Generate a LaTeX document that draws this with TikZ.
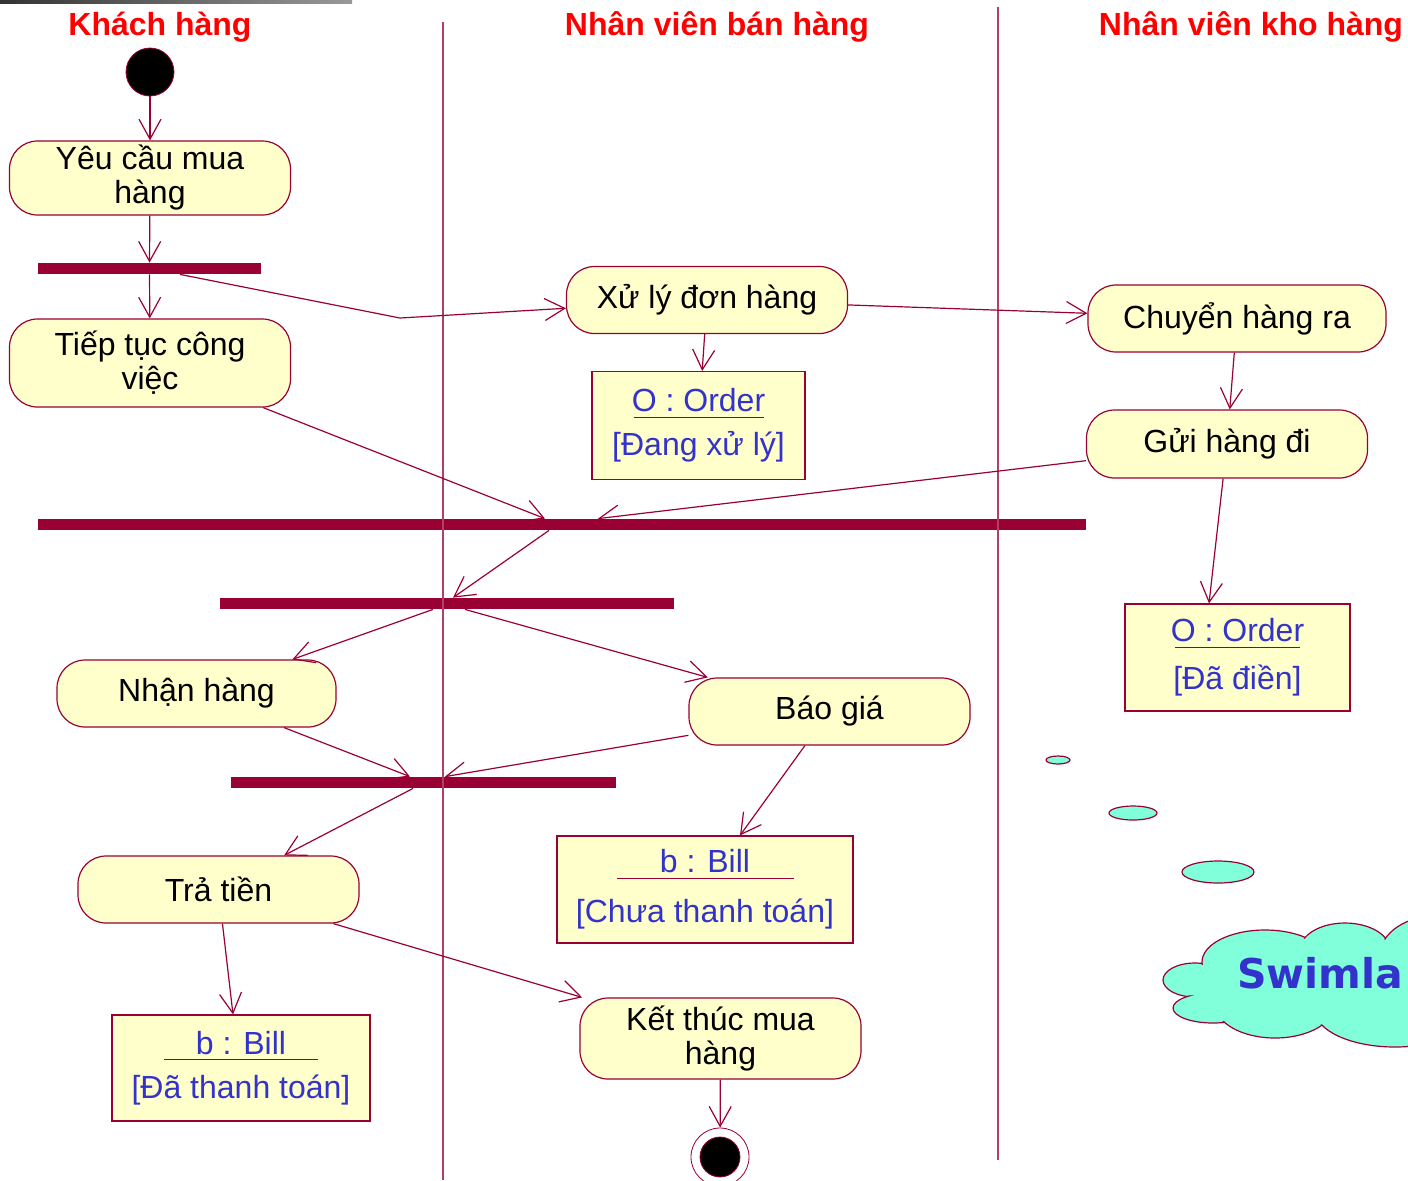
\documentclass[tikz,border=0pt]{standalone}
\usepackage{fontspec}
\setmainfont{Liberation Sans}
\newfontfamily\swimfont{DejaVu Sans}
\usepackage{xcolor}
\usepackage{tikz}
\usetikzlibrary{arrows.meta,calc}
\definecolor{umlred}{RGB}{153,0,51}
\definecolor{umlyellow}{RGB}{255,255,204}
\definecolor{objblue}{RGB}{51,51,204}
\definecolor{cloudgreen}{RGB}{128,255,218}
\definecolor{titlered}{RGB}{255,0,0}
\newcommand{\objhead}[2]{\makebox[#1]{#2}\llap{\textcolor{umlred}{\rule[-3pt]{#1}{0.6pt}}}}

\begin{document}
\begin{tikzpicture}[
  x=0.5pt,y=-0.5pt,
  action/.style={draw=umlred,line width=0.6pt,fill=umlyellow,rounded corners=14pt,
     minimum width=140.5pt,minimum height=33.5pt,inner sep=0pt,align=center,
     font=\fontsize{16}{17}\selectfont},
  objbox/.style={draw=umlred,line width=0.6pt,fill=umlyellow,minimum height=54pt,inner sep=0pt,
     align=center,text=objblue,font=\fontsize{16}{22}\selectfont},
  bar/.style={fill=umlred,inner sep=0pt,minimum height=5.5pt},
  flow/.style={-{Straight Barb[length=10pt,width=11pt]},line width=0.6pt,color=umlred},
  lane/.style={line width=0.6pt,color=umlred!75},
  lanetitle/.style={anchor=base,text=titlered,font=\bfseries\fontsize{16}{18}\selectfont},
  startnode/.style={circle,fill=black,draw=umlred,minimum size=24pt,inner sep=0pt},
  endnode/.style={circle,draw=umlred,fill=white,minimum size=29pt,inner sep=0pt,
     path picture={\filldraw[fill=black,draw=umlred] (path picture bounding box.center) circle (10pt);}},
  bubble/.style={fill=cloudgreen,draw=umlred,line width=0.6pt}
]
\useasboundingbox (0,0) rectangle (1408,1180);
\clip (0,0) rectangle (1408,1180);
\shade[left color=black!80,right color=black!40] (0,0) rectangle (352,3);

\node[lanetitle] (t1) at (160,35) {Khách hàng};
\node[lanetitle] (t2) at (717,35) {Nhân viên bán hàng};
\node[lanetitle] (t3) at (1251,35) {Nhân viên kho hàng};

\node[startnode] (start) at (150,72) {};
\node[action,minimum height=37pt] (yeu) at (150,178) {Yêu cầu mua\\hàng};
\node[bar,minimum width=111.5pt] (bar1) at (149.5,268.5) {};
\node[action,minimum height=44pt] (tiep) at (150,363) {Tiếp tục công\\việc};
\node[action] (xuly) at (707,300) {Xử lý đơn hàng};
\node[objbox,minimum width=106.5pt] (o1) at (698.5,425.5) {\objhead{65pt}{O : Order}\\{}[Đang xử lý]};
\node[action,minimum width=149pt] (chuyen) at (1237,318.5) {Chuyển hàng ra};
\node[action,minimum height=34pt] (gui) at (1227,444) {Gửi hàng đi};
\node[objbox,minimum width=112.5pt,minimum height=53.5pt] (o2) at (1237.5,657.5) {\objhead{62.5pt}{O : Order}\\[2pt]{}[Đã điền]};
\node[bar,minimum width=524pt] (bar2) at (562,524.5) {};
\node[bar,minimum width=227pt] (bar3) at (447,603.5) {};
\node[action,minimum width=139.5pt] (nhan) at (196.5,693.5) {Nhận hàng};
\node[action] (bao) at (829.5,711.5) {Báo giá};
\node[bar,minimum width=192.5pt] (bar4) at (423.5,782.5) {};
\node[objbox,minimum width=148pt,minimum height=53.5pt] (b1) at (705,889.5) {\objhead{88.5pt}{b : Bill}\\[3pt]{}[Chưa thanh toán]};
\node[action] (tra) at (218.5,889.5) {Trả tiền};
\node[objbox,minimum width=129pt,minimum height=53pt] (b2) at (241,1068) {\objhead{77pt}{b : Bill}\\{}[Đã thanh toán]};
\node[action,minimum height=40.5pt] (ket) at (720.5,1038.5) {Kết thúc mua\\hàng};
\node[endnode] (final) at (720,1157) {};

\draw[lane] (443,22) -- (443,1180);
\draw[lane] (998,7) -- (998,1160);

\coordinate (bend) at (400,318);
\draw[flow] (start) -- (yeu);
\draw[flow] (yeu) -- (bar1);
\draw[flow] (bar1) -- (tiep);
\draw[flow] (180,0 |- bar1.south) -- (bend) -- (xuly);
\draw[flow] (xuly) -- (o1);
\draw[flow] (xuly) -- (chuyen);
\draw[flow] (chuyen) -- (gui);
\draw[flow] (gui) -- (1209,0 |- o2.north);
\draw[flow] (tiep) -- (545,0 |- bar2.north);
\draw[flow] (gui) -- (598,0 |- bar2.north);
\draw[flow] (549,0 |- bar2.south) -- (453,0 |- bar3.north);
\draw[flow] (433,0 |- bar3.south) -- (nhan);
\draw[flow] (465,0 |- bar3.south) -- (bao);
\draw[flow] (nhan) -- (410,0 |- bar4.north);
\draw[flow] (bao) -- (445,0 |- bar4.north);
\draw[flow] (bao) -- (740,0 |- b1.north);
\draw[flow] (413,0 |- bar4.south) -- (tra);
\draw[flow] (tra) -- (233,0 |- b2.north);
\draw[flow] (tra) -- (ket);
\draw[flow] (ket) -- (final);

% thought bubbles and cloud
\draw[bubble] (1058,760) ellipse [x radius=6pt,y radius=2pt];
\draw[bubble] (1133,813) ellipse [x radius=12pt,y radius=3.5pt];
\draw[bubble] (1218,872) ellipse [x radius=18pt,y radius=5.5pt];
\foreach \cx/\cy/\rx/\ry in {1195/980/16/8.5,1213/1008/20/7.5,1265/962/31.5/16,1345/950/22.5/13.5,
    1440/955/30/20,1275/1004/30/17,1395/1010/40/18.5}
  \draw[bubble] (\cx,\cy) ellipse [x radius=\rx pt,y radius=\ry pt];
\foreach \cx/\cy/\rx/\ry in {1195/980/16/8.5,1213/1008/20/7.5,1265/962/31.5/16,1345/950/22.5/13.5,
    1440/955/30/20,1275/1004/30/17,1395/1010/40/18.5}
  \fill[cloudgreen] (\cx,\cy) ellipse [x radius=\rx pt-0.8pt,y radius=\ry pt-0.8pt];
\fill[cloudgreen] (1300,985) ellipse [x radius=55pt,y radius=20pt];
\node[anchor=base east,text=objblue,font=\swimfont\bfseries\fontsize{20.5}{20}\selectfont] (swim) at (1410,988) {Swimla};
\end{tikzpicture}
\end{document}
